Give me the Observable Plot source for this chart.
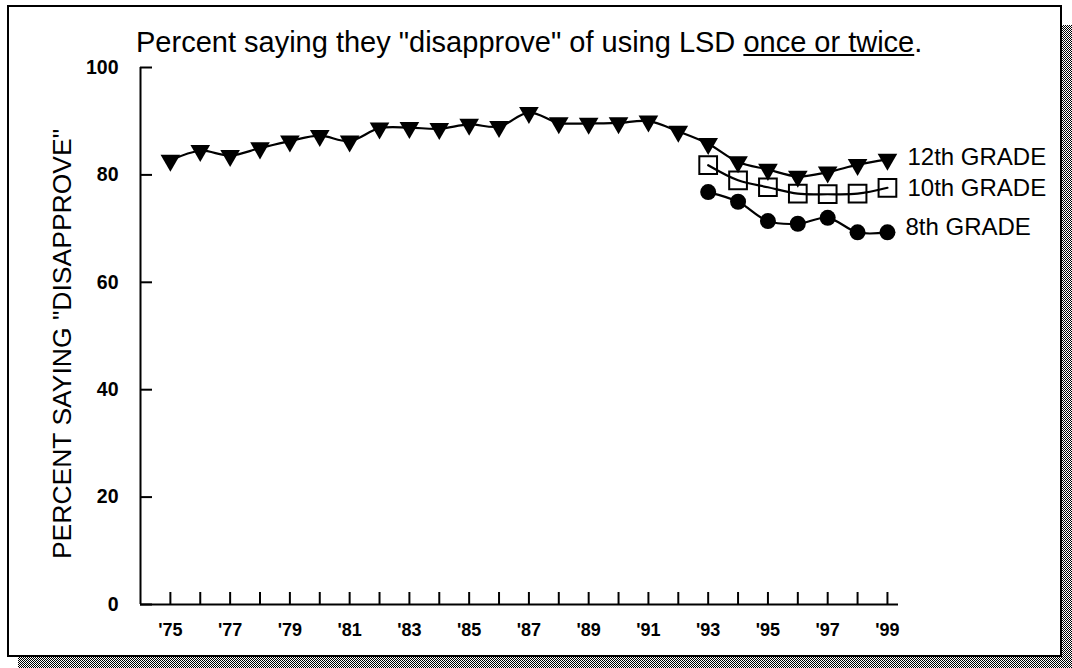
<!DOCTYPE html>
<html>
<head>
<meta charset="utf-8">
<script src="https://cdn.jsdelivr.net/npm/d3@7"></script>
<script src="https://cdn.jsdelivr.net/npm/@observablehq/plot@0.6"></script>
<style>
html,body{margin:0;padding:0;background:#fff;}
#wrap{position:relative;width:1072px;height:668px;overflow:hidden;font-family:"Liberation Sans",Arial,Helvetica,sans-serif;color:#000;}
#box{position:absolute;left:7px;top:5px;width:1051px;height:648px;border:2px solid #000;}
.shade{position:absolute;background-color:#fff;background-image:repeating-conic-gradient(#000 0 25%, #fff 0 50%);background-size:2px 2px;}
#shR{left:1062px;top:25px;width:10px;height:643px;}
#shB{left:18px;top:657px;width:1054px;height:11px;}
#chart{position:absolute;left:0;top:0;}
#title{position:absolute;left:136px;top:28px;font-size:29px;line-height:1;white-space:nowrap;}
</style>
</head>
<body>
<div id="wrap">
  <div id="box"></div>
  <div class="shade" id="shR"></div>
  <div class="shade" id="shB"></div>
  <div id="chart"></div>
  <div id="title">Percent saying they "disapprove" of using LSD <u>once or twice</u>.</div>
</div>
<script>
// ---- data ----
const years12 = [1975,1976,1977,1978,1979,1980,1981,1982,1983,1984,1985,1986,1987,1988,1989,1990,1991,1992,1993,1994,1995,1996,1997,1998,1999];
const grade12 = [82.7,84.5,83.6,85.0,86.3,87.3,86.3,88.7,88.8,88.6,89.4,89.0,91.6,89.7,89.6,89.7,90.0,88.1,85.8,82.4,81.0,79.7,80.5,81.9,82.9];
const yearsLower = [1993,1994,1995,1996,1997,1998,1999];
const grade10 = [81.8,79.0,77.7,76.5,76.4,76.5,77.6];
const grade8 = [76.8,75.0,71.4,70.9,72.0,69.3,69.3];
const yTicks = [0,20,40,60,80,100];
const xLabelYears = [1975,1977,1979,1981,1983,1985,1987,1989,1991,1993,1995,1997,1999];
const seriesLabels = ["12th GRADE","10th GRADE","8th GRADE"];
const yTitle = "PERCENT SAYING \"DISAPPROVE\"";

const rows12 = years12.map((year,i)=>({year, value:grade12[i]}));
const rows10 = yearsLower.map((year,i)=>({year, value:grade10[i]}));
const rows8 = yearsLower.map((year,i)=>({year, value:grade8[i]}));

const W = 1072, H = 668, ML = 140, MR = 174, MT = 67, MB = 64;
const plotW = W - ML - MR, plotH = H - MT - MB, tickLen = 12;
const font = "'Liberation Sans', Arial, Helvetica, sans-serif";

const chart = Plot.plot({
  width: W, height: H,
  marginLeft: ML, marginRight: MR, marginTop: MT, marginBottom: MB,
  style: {background: "transparent", fontFamily: font, color: "#000", overflow: "visible"},
  x: {domain: [1974, 1999.37]},
  y: {domain: [0, 100]},
  marks: [
    Plot.ruleY([0], {stroke: "#000", strokeWidth: 2}),
    Plot.ruleX([1974], {stroke: "#000", strokeWidth: 2}),
    Plot.tickX(years12, {x: d => d, insetTop: plotH - tickLen, stroke: "#000", strokeWidth: 2}),
    Plot.tickY(yTicks, {y: d => d, insetRight: plotW - tickLen, stroke: "#000", strokeWidth: 2}),
    Plot.axisX({ticks: xLabelYears, tickFormat: d => "'" + String(d).slice(2), tickSize: 0, tickPadding: 19, fontSize: 18, fontWeight: "bold", label: null}),
    Plot.axisY({ticks: yTicks, tickSize: 0, tickPadding: 22, fontSize: 19.5, fontWeight: "bold", label: null}),
    Plot.text([yTitle], {text: d => d, frameAnchor: "left", textAnchor: "middle", rotate: -90, dx: -78, dy: 8, fontSize: 26.5, fill: "#000"}),
    Plot.line(rows12, {x: "year", y: "value", curve: "catmull-rom", stroke: "#000", strokeWidth: 2.2}),
    Plot.line(rows10, {x: "year", y: "value", curve: "catmull-rom", stroke: "#000", strokeWidth: 2.2}),
    Plot.line(rows8, {x: "year", y: "value", curve: "catmull-rom", stroke: "#000", strokeWidth: 2.2}),
    Plot.dot(rows12, {x: "year", y: "value", symbol: "triangle", r: 7.3, fill: "#000", stroke: "none", rotate: 180}),
    Plot.dot(rows10, {x: "year", y: "value", symbol: "square", r: 10, fill: "none", stroke: "#000", strokeWidth: 2}),
    Plot.dot(rows8, {x: "year", y: "value", symbol: "circle", r: 8, fill: "#000", stroke: "none"}),
    Plot.text(rows12.slice(-1), {x: "year", y: "value", text: () => seriesLabels[0], textAnchor: "start", dx: 20, dy: -2, fontSize: 24, fill: "#000"}),
    Plot.text(rows10.slice(-1), {x: "year", y: "value", text: () => seriesLabels[1], textAnchor: "start", dx: 20, dy: 1, fontSize: 24, fill: "#000"}),
    Plot.text(rows8.slice(-1), {x: "year", y: "value", text: () => seriesLabels[2], textAnchor: "start", dx: 18, dy: -5, fontSize: 24, fill: "#000"})
  ]
});
document.getElementById("chart").appendChild(chart);
</script>
</body>
</html>
